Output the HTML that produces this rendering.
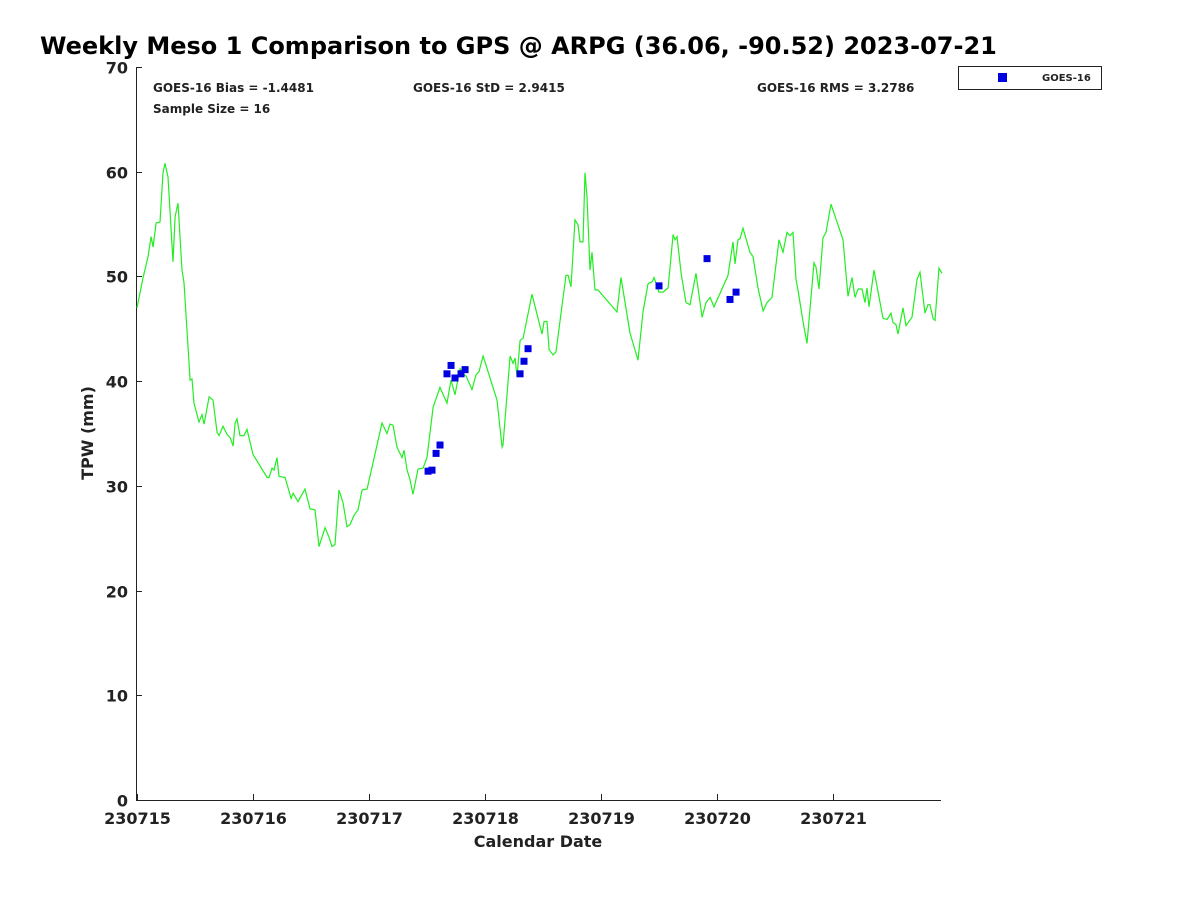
<!DOCTYPE html>
<html><head><meta charset="utf-8"><style>
body{margin:0;background:#fff;font-family:"DejaVu Sans","Liberation Sans",sans-serif}
svg text{font-family:"DejaVu Sans","Liberation Sans",sans-serif;font-weight:bold;fill:#222}
</style></head><body>
<svg id="chart" width="1200" height="900" xmlns="http://www.w3.org/2000/svg">
<rect width="1200" height="900" fill="#fff"/>
<text x="40" y="54" font-size="24" style="fill:#000">Weekly Meso 1 Comparison to GPS @ ARPG (36.06, -90.52) 2023-07-21</text>
<text x="153" y="92" font-size="12">GOES-16 Bias = -1.4481</text>
<text x="413" y="92" font-size="12">GOES-16 StD = 2.9415</text>
<text x="757" y="92" font-size="12">GOES-16 RMS = 3.2786</text>
<text x="153" y="113" font-size="12">Sample Size = 16</text>
<g>
<rect x="958.5" y="66.5" width="143" height="23" fill="#fff" stroke="#222"/>
<rect x="998" y="73" width="9" height="9" fill="#0000e0"/>
<text x="1042" y="81" font-size="10">GOES-16</text>
</g>
<g id="axes"></g>
<g id="marks"></g>
<text x="538" y="847" font-size="16" text-anchor="middle">Calendar Date</text>
<text transform="translate(93,433) rotate(-90)" font-size="16" text-anchor="middle">TPW (mm)</text>
</svg>
<script>
const gpsDays=[0,0.052,0.095,0.121,0.138,0.164,0.198,0.224,0.241,0.267,0.31,0.328,0.353,0.388,0.405,0.457,0.474,0.491,0.534,0.56,0.578,0.621,0.655,0.69,0.707,0.741,0.776,0.802,0.828,0.845,0.862,0.888,0.922,0.948,1.0,1.121,1.138,1.164,1.181,1.207,1.224,1.276,1.328,1.345,1.388,1.448,1.491,1.534,1.569,1.621,1.655,1.681,1.707,1.741,1.776,1.81,1.836,1.871,1.905,1.94,1.983,2.112,2.155,2.181,2.207,2.241,2.284,2.302,2.328,2.353,2.379,2.422,2.466,2.5,2.552,2.612,2.672,2.707,2.741,2.784,2.819,2.836,2.888,2.922,2.948,2.983,3.103,3.147,3.155,3.216,3.241,3.259,3.276,3.302,3.328,3.405,3.491,3.509,3.534,3.552,3.586,3.612,3.664,3.698,3.716,3.741,3.776,3.802,3.819,3.845,3.862,3.879,3.905,3.922,3.948,3.974,4.138,4.172,4.25,4.319,4.362,4.405,4.44,4.457,4.5,4.534,4.578,4.621,4.638,4.655,4.69,4.733,4.767,4.819,4.871,4.905,4.94,4.974,5.095,5.138,5.155,5.181,5.198,5.224,5.284,5.31,5.353,5.397,5.431,5.474,5.534,5.569,5.603,5.629,5.655,5.681,5.698,5.741,5.776,5.836,5.853,5.879,5.914,5.94,5.983,6.086,6.129,6.164,6.19,6.216,6.25,6.276,6.293,6.31,6.353,6.431,6.466,6.5,6.517,6.543,6.56,6.603,6.629,6.681,6.724,6.75,6.793,6.819,6.836,6.862,6.879,6.914,6.94];
const gpsTPW=[47.0,49.9,51.9,53.8,52.8,55.1,55.2,59.9,60.8,59.5,51.4,55.7,57.0,50.6,49.4,40.1,40.2,37.9,36.1,36.8,35.9,38.5,38.2,35.1,34.8,35.7,34.9,34.6,33.8,36.0,36.4,34.8,34.8,35.4,33.0,30.8,30.8,31.7,31.5,32.7,30.9,30.8,28.8,29.3,28.5,29.7,27.8,27.7,24.2,26.0,25.1,24.2,24.4,29.6,28.4,26.1,26.3,27.2,27.7,29.6,29.7,36.0,35.0,35.9,35.8,33.7,32.7,33.4,31.5,30.6,29.2,31.6,31.7,32.7,37.5,39.4,37.9,40.1,38.7,41.2,40.6,40.5,39.2,40.6,40.9,42.4,38.2,33.7,33.9,42.4,41.7,42.2,40.4,43.9,44.1,48.3,44.5,45.7,45.7,43.0,42.5,42.8,47.2,50.1,50.1,49.0,55.4,54.9,53.3,53.3,59.9,57.6,50.6,52.3,48.7,48.7,46.6,49.9,44.6,42.0,46.6,49.3,49.5,49.9,48.5,48.5,48.9,54.0,53.5,53.8,50.3,47.5,47.3,50.3,46.1,47.5,48.0,47.1,50.1,53.3,51.2,53.5,53.6,54.6,52.3,51.9,48.9,46.7,47.5,48.0,53.5,52.3,54.2,53.9,54.2,49.7,48.7,45.7,43.6,51.3,50.9,48.8,53.7,54.2,56.9,53.5,48.1,49.9,48.0,48.8,48.8,47.5,48.9,47.1,50.6,46.0,45.9,46.5,45.6,45.4,44.5,47.0,45.3,46.1,49.7,50.4,46.5,47.3,47.3,46.0,45.8,50.8,50.3];
const goesDays=[2.509,2.543,2.578,2.612,2.672,2.707,2.741,2.793,2.828,3.302,3.336,3.371,4.5,4.914,5.112,5.164];
const goesTPW=[31.4,31.5,33.1,33.9,40.7,41.5,40.3,40.7,41.1,40.7,41.9,43.1,49.1,51.7,47.8,48.5];
const xTickVals=[0,1,2,3,4,5,6];
const xTickLabels=["230715","230716","230717","230718","230719","230720","230721"];
const yTickVals=[0,10,20,30,40,50,60,70];

const X0=136,X1=941,Y0=800,Y1=67,dMin=-0.009,dMax=6.931,vMin=0,vMax=70;
const xs=d=>X0+(d-dMin)/(dMax-dMin)*(X1-X0);
const ys=v=>Y0-(v-vMin)/(vMax-vMin)*(Y0-Y1);
const NS='http://www.w3.org/2000/svg';
function mk(tag,attrs,parent){const e=document.createElementNS(NS,tag);for(const k in attrs)e.setAttribute(k,attrs[k]);parent.appendChild(e);return e;}
const axes=document.getElementById('axes'),marks=document.getElementById('marks');
let a=mk('path',{d:`M${X0+0.5},${Y1}V${Y0+0.5}H${X1}`,fill:'none',stroke:'#222','stroke-width':1},axes);


yTickVals.forEach(v=>{const y=Math.round(ys(v))+0.5;
 const t=mk('line',{x1:X0,x2:X0+6,y1:y,y2:y,stroke:'#222'},axes);
 
 
 const l=mk('text',{x:X0-8,y:y+6,'font-size':16,'text-anchor':'end'},axes);l.textContent=v;
 
 
});
xTickVals.forEach((d,i)=>{const x=Math.round(xs(d))+0.5;
 const t=mk('line',{x1:x,x2:x,y1:Y0,y2:Y0-6,stroke:'#222'},axes);
 
 
 const l=mk('text',{x:x,y:824,'font-size':16,'text-anchor':'middle'},axes);l.textContent=xTickLabels[i];
 
 
});
const p=mk('polyline',{points:gpsDays.map((d,i)=>xs(d).toFixed(1)+','+ys(gpsTPW[i]).toFixed(1)).join(' '),fill:'none',stroke:'#22ee22','stroke-width':1.2},marks);


goesDays.forEach((d,i)=>{
 const r=mk('rect',{x:xs(d)-3.5,y:ys(goesTPW[i])-3.5,width:7,height:7,fill:'#0000e0'},marks);
 
 
});
</script>
</body></html>
